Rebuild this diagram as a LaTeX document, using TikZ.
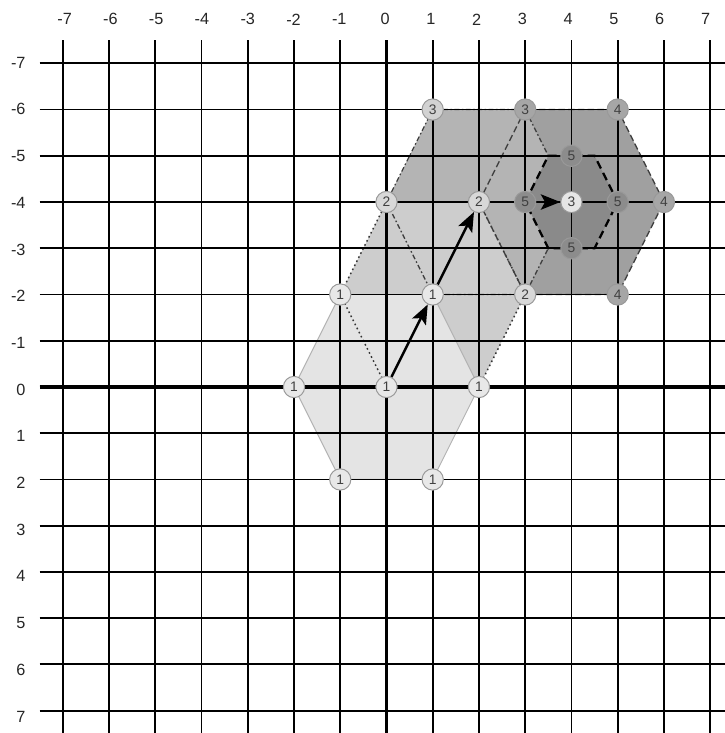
\documentclass[tikz,border=0pt]{standalone}
\usepackage{fontspec}
\setmainfont{Liberation Sans}
\usetikzlibrary{arrows.meta}
\pgfdeclarelayer{fills}
\pgfdeclarelayer{edges}
\pgfdeclarelayer{inner}
\pgfdeclarelayer{gridl}
\pgfsetlayers{fills,edges,inner,gridl,main}
\definecolor{cLone}{HTML}{E4E4E4}
\definecolor{cLtwo}{HTML}{CDCDCD}
\definecolor{cLthree}{HTML}{B4B4B4}
\definecolor{cLfour}{HTML}{A0A0A0}
\definecolor{cLfive}{HTML}{8A8A8A}
\definecolor{mkone}{HTML}{E8E8E8}
\definecolor{mktwo}{HTML}{D8D8D8}
\definecolor{mkthreea}{HTML}{D2D2D2}
\definecolor{mkthreeb}{HTML}{A6A6A6}
\definecolor{mkthreec}{HTML}{E6E6E6}
\definecolor{mkfour}{HTML}{A6A6A6}
\definecolor{mkfive}{HTML}{8C8C8C}
\definecolor{mkedge}{HTML}{999999}
\tikzset{
  gridline/.style={line width=1.15pt, black},
  axisline/.style={line width=2.3pt, black},
  lab/.style={font=\fontsize{10}{12}\selectfont, text=black!85, inner sep=0pt},
  mk/.style={circle, draw=mkedge, line width=0.6pt, minimum size=0.46cm, inner sep=0pt, font=\fontsize{8.5}{8.5}\selectfont, text=black!75},
  eone/.style={draw=black!30, line width=0.6pt},
  etwo/.style={draw=black!80, line width=0.9pt, dash pattern=on 1pt off 1.8pt},
  ethree/.style={draw=black!75, line width=0.8pt, dash pattern=on 3pt off 1.5pt on 1pt off 1.5pt},
  efour/.style={draw=black!75, line width=0.8pt, dash pattern=on 4pt off 2pt},
  efive/.style={draw=black, line width=1.4pt, dash pattern=on 5pt off 3pt},
  arr/.style={line width=1.5pt, -{Stealth[length=4.2mm,width=3.3mm,inset=0.9mm]}},
}
\begin{document}
\begin{tikzpicture}[x=1cm,y=-1cm]
\useasboundingbox (-8.358,-8.369) rectangle (7.321,7.483);
\clip (-8.358,-8.369) rectangle (7.321,7.483);

% markers (main layer, on top)
\node[mk, fill=mkone] (s1c) at (0,0) {1};
\node[mk, fill=mkone] (s1a) at (-2,0) {1};
\node[mk, fill=mkone] (s1b) at (-1,-2) {1};
\node[mk, fill=mkone] (s1d) at (1,-2) {1};
\node[mk, fill=mkone] (s1e) at (2,0) {1};
\node[mk, fill=mkone] (s1f) at (1,2) {1};
\node[mk, fill=mkone] (s1g) at (-1,2) {1};
\node[mk, fill=mktwo] (s2a) at (0,-4) {2};
\node[mk, fill=mktwo] (s2b) at (2,-4) {2};
\node[mk, fill=mktwo] (s2c) at (3,-2) {2};
\node[mk, fill=mkthreea] (s3a) at (1,-6) {3};
\node[mk, fill=mkthreeb] (s3b) at (3,-6) {3};
\node[mk, fill=mkthreec] (s3c) at (4,-4) {3};
\node[mk, fill=mkfour] (s4a) at (5,-6) {4};
\node[mk, fill=mkfour] (s4b) at (6,-4) {4};
\node[mk, fill=mkfour] (s4c) at (5,-2) {4};
\node[mk, fill=mkfive] (s5a) at (4,-5) {5};
\node[mk, fill=mkfive] (s5b) at (3,-4) {5};
\node[mk, fill=mkfive] (s5c) at (5,-4) {5};
\node[mk, fill=mkfive] (s5d) at (4,-3) {5};

% axis labels
\foreach \i in {-7,...,7}{
  \node[lab] (xl\i) at ({\i-0.01*\i-0.03},-7.95) {\i};
  \node[lab, anchor=east] (yl\i) at (-7.80,{\i+0.055+0.01*\i}) {\i};
}

\begin{pgfonlayer}{fills}
  \fill[white] (-8.358,-8.369) rectangle (7.321,7.483);
  \fill[cLfour] (2,-4) -- (3,-6) -- (5,-6) -- (6,-4) -- (5,-2) -- (3,-2) -- cycle;
  \fill[cLthree] (0,-4) -- (1,-6) -- (3,-6) -- (4,-4) -- (3,-2) -- (1,-2) -- cycle;
  \fill[cLtwo] (-1,-2) -- (0,-4) -- (2,-4) -- (3,-2) -- (2,0) -- (0,0) -- cycle;
  \fill[cLone] (-2,0) -- (-1,-2) -- (1,-2) -- (2,0) -- (1,2) -- (-1,2) -- cycle;
\end{pgfonlayer}

\begin{pgfonlayer}{edges}
  \path[eone] (-2,0) -- (-1,-2) -- (1,-2) -- (2,0) -- (1,2) -- (-1,2) -- cycle;
  \path[etwo] (-1,-2) -- (0,-4) -- (2,-4) -- (3,-2) -- (2,0) -- (0,0) -- cycle;
  \path[ethree] (0,-4) -- (1,-6) -- (3,-6) -- (4,-4) -- (3,-2) -- (1,-2) -- cycle;
  \path[efour] (2,-4) -- (3,-6) -- (5,-6) -- (6,-4) -- (5,-2) -- (3,-2) -- cycle;
\end{pgfonlayer}

\begin{pgfonlayer}{inner}
  \fill[cLfive] (3,-4) -- (3.5,-5) -- (4.5,-5) -- (5,-4) -- (4.5,-3) -- (3.5,-3) -- cycle;
\end{pgfonlayer}

\begin{pgfonlayer}{gridl}
  \foreach \i in {-7,...,7}{
    \draw[gridline] (\i,-7.5) -- (\i,7.5);
    \draw[gridline] (-7.5,\i) -- (7.5,\i);
  }
  \draw[axisline] (0,-7.5) -- (0,7.5);
  \draw[axisline] (-7.5,0) -- (7.5,0);
  \path[efive] (3,-4) -- (3.5,-5) -- (4.5,-5) -- (5,-4) -- (4.5,-3) -- (3.5,-3) -- cycle;
  \draw[arr] (s1c) -- (s1d);
  \draw[arr] (s1d) -- (s2b);
  \draw[arr] (s2b) -- (s3c);
\end{pgfonlayer}
\end{tikzpicture}
\end{document}
